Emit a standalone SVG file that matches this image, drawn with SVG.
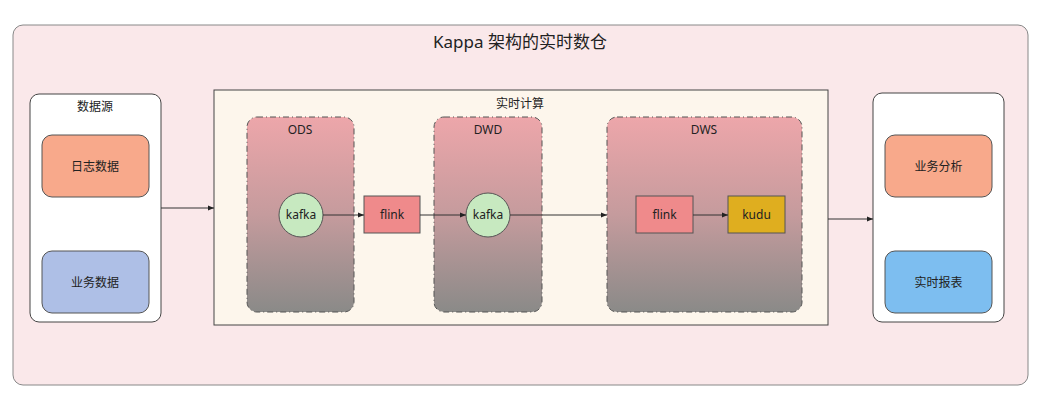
<svg xmlns="http://www.w3.org/2000/svg" width="1044" height="400" viewBox="0 0 1044 400">
<style>
text{font-family:"Noto Sans","Noto Sans CJK SC",sans-serif;fill:#222;text-anchor:middle}
.t{font-size:12px}
.layer{stroke:#555;stroke-width:1;stroke-dasharray:6 3 1 3;fill:url(#lg)}
.circ{fill:#c7e9c0;stroke:#555;stroke-width:1}
.conn{stroke:#333;stroke-width:1;fill:none;marker-end:url(#ah)}
</style>
<defs>
<linearGradient id="lg" x1="0" y1="0" x2="0" y2="1">
<stop offset="0" stop-color="#eda6aa"/>
<stop offset="0.5" stop-color="#c59b9d"/>
<stop offset="1" stop-color="#8a8a88"/>
</linearGradient>
<marker id="ah" viewBox="0 0 10 10" refX="10" refY="5" markerWidth="6" markerHeight="6" orient="auto" markerUnits="userSpaceOnUse">
<path d="M0,1 L10,5 L0,9 z" fill="#222"/>
</marker>
</defs>
<rect width="1044" height="400" fill="#ffffff"/>
<g id="outer">
<rect x="13" y="25" width="1015" height="360" rx="10" fill="#fae8ea" stroke="#888" stroke-width="1"/>
<text x="520" y="48" style="font-size:17px">Kappa 架构的实时数仓</text>
</g>
<g id="source">
<rect x="30" y="94" width="131" height="228" rx="9" fill="#ffffff" stroke="#444"/>
<text x="95" y="111" class="t">数据源</text>
</g>
<g id="logdata">
<rect x="42" y="135" width="107" height="62" rx="10" fill="#f8a98b" stroke="#555"/>
<text x="95" y="171" class="t">日志数据</text>
</g>
<g id="bizdata">
<rect x="42" y="251" width="107" height="62" rx="10" fill="#aebfe6" stroke="#555"/>
<text x="95" y="287" class="t">业务数据</text>
</g>
<g id="realtime">
<rect x="214" y="90" width="614" height="235" fill="#fdf6ec" stroke="#444"/>
<text x="520" y="108" class="t">实时计算</text>
</g>
<g id="ods">
<rect x="247" y="117" width="107" height="195" rx="10" class="layer"/>
<text x="300" y="134" class="t">ODS</text>
</g>
<g id="dwd">
<rect x="434" y="117" width="108" height="195" rx="10" class="layer"/>
<text x="488" y="134" class="t">DWD</text>
</g>
<g id="dws">
<rect x="607" y="117" width="195" height="195" rx="10" class="layer"/>
<text x="704" y="134" class="t">DWS</text>
</g>
<g id="kafka1">
<circle cx="301" cy="215" r="22" class="circ"/>
<text x="301" y="219" class="t">kafka</text>
</g>
<g id="flink1">
<rect x="364" y="196" width="56" height="37" fill="#ef8a8b" stroke="#555"/>
<text x="392" y="219" class="t">flink</text>
</g>
<g id="kafka2">
<circle cx="488" cy="215" r="22" class="circ"/>
<text x="488" y="219" class="t">kafka</text>
</g>
<g id="flink2">
<rect x="636" y="196" width="57" height="37" fill="#ef8a8b" stroke="#555"/>
<text x="664.5" y="219" class="t">flink</text>
</g>
<g id="kudu">
<rect x="728" y="196" width="57" height="37" fill="#dfae1f" stroke="#555"/>
<text x="756.5" y="219" class="t">kudu</text>
</g>
<g id="output">
<rect x="873" y="93" width="131" height="229" rx="9" fill="#ffffff" stroke="#444"/>
</g>
<g id="analysis">
<rect x="885" y="135" width="107" height="62" rx="10" fill="#f8a98b" stroke="#555"/>
<text x="938.5" y="171" class="t">业务分析</text>
</g>
<g id="report">
<rect x="885" y="251" width="107" height="62" rx="10" fill="#7dbef0" stroke="#555"/>
<text x="938.5" y="287" class="t">实时报表</text>
</g>
<g id="connectors">
<line x1="161" y1="208" x2="214" y2="208" class="conn"/>
<line x1="323" y1="215" x2="364" y2="215" class="conn"/>
<line x1="420" y1="215" x2="466" y2="215" class="conn"/>
<line x1="510" y1="215" x2="607" y2="215" class="conn"/>
<line x1="693" y1="215" x2="728" y2="215" class="conn"/>
<line x1="828" y1="219" x2="873" y2="219" class="conn"/>
</g>
</svg>
